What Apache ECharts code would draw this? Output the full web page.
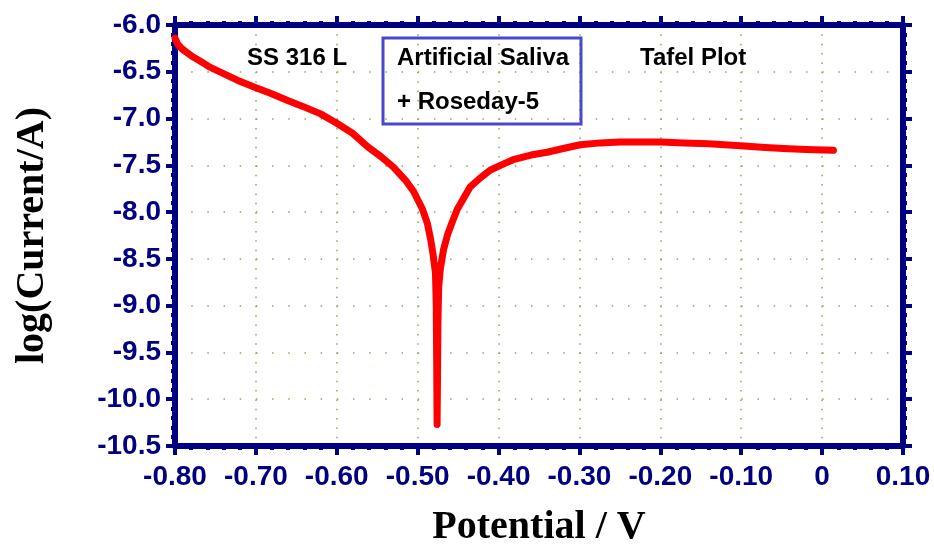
<!DOCTYPE html>
<html style="height: 100%">
<head>
  <meta charset="utf-8">
</head>
<body style="height: 100%; margin: 0; background: #fff">
  <div id="container" style="width: 934px; height: 546px"></div>

  <script type="text/javascript" src="https://cdn.jsdelivr.net/npm/echarts@6.0.0/dist/echarts.min.js"></script>
  <script type="text/javascript">
    // Tafel curve: potential (V) and log(current/A)
    var potential = [
      -0.800, -0.797, -0.792, -0.786, -0.778, -0.768, -0.757, -0.740, -0.723, -0.700, -0.682,
      -0.660, -0.642, -0.620, -0.600, -0.580, -0.562, -0.545, -0.530, -0.515, -0.505,
      -0.494, -0.488, -0.484, -0.481, -0.478, -0.477, -0.4765, -0.476,
      -0.4755, -0.475, -0.474, -0.472, -0.468, -0.463, -0.457, -0.451, -0.443, -0.435,
      -0.422, -0.410, -0.395, -0.382, -0.360, -0.340, -0.320, -0.299, -0.274, -0.250,
      -0.221, -0.200, -0.171, -0.140, -0.101, -0.070, -0.048, -0.020, 0.014
    ];
    var logCurrent = [
      -6.14, -6.20, -6.25, -6.29, -6.34, -6.39, -6.45, -6.52, -6.59, -6.67, -6.73,
      -6.81, -6.87, -6.95, -7.05, -7.16, -7.30, -7.41, -7.52, -7.66, -7.78,
      -7.97, -8.12, -8.29, -8.45, -8.65, -9.00, -9.60, -10.27,
      -9.80, -9.20, -8.80, -8.61, -8.40, -8.24, -8.10, -7.97, -7.85, -7.73,
      -7.63, -7.55, -7.49, -7.44, -7.39, -7.36, -7.32, -7.28, -7.26, -7.25,
      -7.25, -7.25, -7.26, -7.27, -7.29, -7.31, -7.32, -7.33, -7.34
    ];
    var xRange = [-0.8, 0.1];
    var yRange = [-10.5, -6.0];

    var navy = '#000080';
    var tickFont = 'Liberation Sans, Arial, sans-serif';
    var serif = 'Liberation Serif, Times New Roman, serif';

    var points = potential.map(function (p, i) { return [p, logCurrent[i]]; });

    var myChart = echarts.init(document.getElementById('container'));

    var axisBase = {
      axisLine: { show: true, onZero: false, lineStyle: { color: navy, width: 6 } },
      axisTick: { show: true, inside: false, length: 9, lineStyle: { color: navy, width: 4 } },
      minorTick: { show: true, splitNumber: 5, length: 4, lineStyle: { color: navy, width: 4 } }
    };

    var option = {
      animation: false,
      grid: { left: 175, right: 31, top: 25, bottom: 100, outerBoundsMode: 'none' },
      xAxis: [
        Object.assign({}, axisBase, {
          type: 'value',
          position: 'bottom',
          min: xRange[0], max: xRange[1], interval: 0.1,
          name: 'Potential / V',
          nameLocation: 'middle',
          nameGap: 62,
          nameTextStyle: { fontFamily: serif, fontWeight: 'bold', fontSize: 40, color: '#000' },
          axisLabel: {
            margin: 17, color: navy, fontFamily: tickFont, fontWeight: 'bold', fontSize: 28,
            formatter: function (v) { return Math.abs(v) < 1e-9 ? '0' : v.toFixed(2); }
          },
          splitLine: { show: true, lineStyle: { color: '#7fb050', width: 1.5, type: [1.5, 7.86] } }
        }),
        Object.assign({}, axisBase, {
          type: 'value',
          position: 'top',
          min: xRange[0], max: xRange[1], interval: 0.1,
          axisLabel: { show: false },
          splitLine: { show: false }
        })
      ],
      yAxis: [
        Object.assign({}, axisBase, {
          type: 'value',
          position: 'left',
          min: yRange[0], max: yRange[1], interval: 0.5,
          name: 'log(Current/A)',
          nameLocation: 'middle',
          nameGap: 122,
          nameTextStyle: { fontFamily: serif, fontWeight: 'bold', fontSize: 40, color: '#000' },
          axisLabel: {
            margin: 14, color: navy, fontFamily: tickFont, fontWeight: 'bold', fontSize: 28,
            formatter: function (v) { return v.toFixed(1); }
          },
          splitLine: { show: true, lineStyle: { color: '#7fb050', width: 1.5, type: [1.5, 14.68] } }
        }),
        Object.assign({}, axisBase, {
          type: 'value',
          position: 'right',
          min: yRange[0], max: yRange[1], interval: 0.5,
          axisLabel: { show: false },
          splitLine: { show: false }
        })
      ],
      series: [
        {
          type: 'line',
          xAxisIndex: 0,
          yAxisIndex: 0,
          data: points,
          showSymbol: false,
          lineStyle: { color: '#ff0000', width: 7, cap: 'round', join: 'round' },
          z: 5
        }
      ],
      graphic: [
        {
          type: 'rect',
          shape: { x: 383, y: 38, width: 198, height: 86 },
          style: { fill: 'none', stroke: '#4848cc', lineWidth: 3 },
          z: 10
        },
        {
          type: 'text', x: 247, y: 58,
          style: { text: 'SS 316 L', font: 'bold 24px ' + tickFont, fill: '#000', textVerticalAlign: 'middle', verticalAlign: 'middle' },
          z: 10
        },
        {
          type: 'text', x: 397, y: 58,
          style: { text: 'Artificial Saliva', font: 'bold 24px ' + tickFont, fill: '#000', textVerticalAlign: 'middle', verticalAlign: 'middle' },
          z: 10
        },
        {
          type: 'text', x: 397, y: 102,
          style: { text: '+ Roseday-5', font: 'bold 24px ' + tickFont, fill: '#000', textVerticalAlign: 'middle', verticalAlign: 'middle' },
          z: 10
        },
        {
          type: 'text', x: 640, y: 58,
          style: { text: 'Tafel Plot', font: 'bold 24px ' + tickFont, fill: '#000', textVerticalAlign: 'middle', verticalAlign: 'middle' },
          z: 10
        }
      ]
    };

    myChart.setOption(option);
  </script>
</body>
</html>
